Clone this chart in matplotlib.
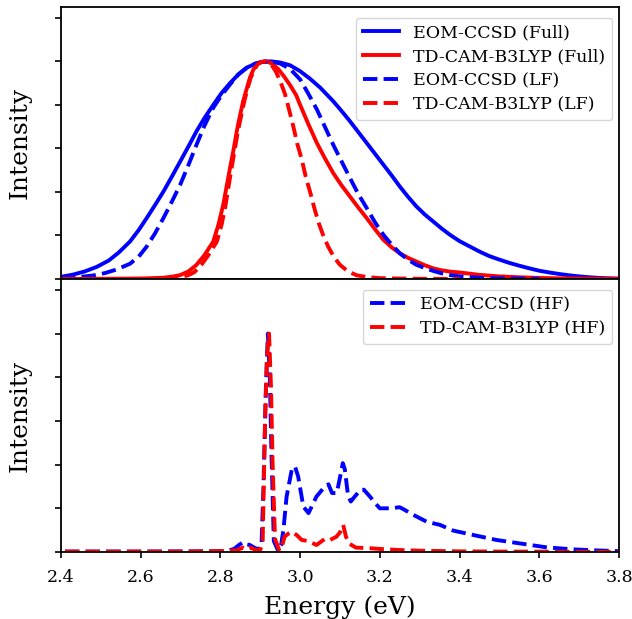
import matplotlib
matplotlib.use("Agg")
import matplotlib.pyplot as plt

# ---------------- data ----------------
# Top panel: full and low-frequency spectra
eom_full_E = [2.40, 2.43, 2.46, 2.49, 2.52, 2.545, 2.573, 2.595, 2.615, 2.636, 2.657, 2.678,
              2.699, 2.72, 2.740, 2.76, 2.782, 2.803, 2.824, 2.845, 2.866, 2.888, 2.908,
              2.928, 2.95, 2.975, 3.00, 3.025, 3.05, 3.083, 3.104, 3.125, 3.146, 3.167,
              3.188, 3.209, 3.23, 3.25, 3.271, 3.292, 3.313, 3.334, 3.355, 3.376, 3.40,
              3.426, 3.45, 3.475, 3.50, 3.525, 3.55, 3.575, 3.60, 3.625, 3.65, 3.675,
              3.70, 3.725, 3.75, 3.775, 3.80]
eom_full_I = [0.010, 0.020, 0.035, 0.056, 0.085, 0.122, 0.172, 0.225, 0.28, 0.34, 0.402, 0.47,
              0.54, 0.61, 0.679, 0.74, 0.80, 0.855, 0.90, 0.94, 0.971, 0.99, 0.999,
              1.0, 0.995, 0.982, 0.955, 0.92, 0.88, 0.817, 0.772, 0.725, 0.675, 0.625,
              0.575, 0.525, 0.475, 0.425, 0.377, 0.333, 0.296, 0.264, 0.232, 0.203, 0.174,
              0.149, 0.126, 0.105, 0.089, 0.074, 0.061, 0.049, 0.038, 0.030, 0.023, 0.017,
              0.012, 0.008, 0.005, 0.003, 0.002]

cam_full_E = [2.40, 2.50, 2.58, 2.62, 2.657, 2.68, 2.699, 2.72, 2.740, 2.76, 2.782, 2.795,
              2.807, 2.816, 2.824, 2.833, 2.841, 2.849, 2.857, 2.866, 2.874, 2.882, 2.891,
              2.90, 2.915, 2.93, 2.945, 2.96, 2.975, 2.99, 3.00, 3.021, 3.042, 3.062, 3.083,
              3.104, 3.125, 3.146, 3.167, 3.188, 3.209, 3.23, 3.25, 3.271, 3.292, 3.313,
              3.334, 3.355, 3.376, 3.40, 3.418, 3.45, 3.50, 3.55, 3.60, 3.65, 3.70, 3.80]
cam_full_I = [0.0, 0.001, 0.002, 0.003, 0.006, 0.011, 0.018, 0.035, 0.065, 0.11, 0.172, 0.25,
              0.341, 0.43, 0.51, 0.595, 0.679, 0.75, 0.817, 0.875, 0.925, 0.96, 0.986,
              0.997, 1.0, 0.99, 0.965, 0.93, 0.89, 0.845, 0.80, 0.71, 0.625, 0.555, 0.487,
              0.43, 0.379, 0.328, 0.28, 0.228, 0.18, 0.145, 0.118, 0.097, 0.08, 0.063,
              0.049, 0.04, 0.034, 0.030, 0.026, 0.019, 0.012, 0.008, 0.005, 0.003, 0.002, 0.001]

eom_lf_E = [2.40, 2.44, 2.48, 2.51, 2.54, 2.573, 2.595, 2.615, 2.636, 2.657, 2.678, 2.699,
            2.72, 2.740, 2.76, 2.782, 2.803, 2.824, 2.845, 2.866, 2.888, 2.908, 2.928, 2.95,
            2.975, 3.00, 3.021, 3.042, 3.062, 3.083, 3.104, 3.125, 3.146, 3.167, 3.188,
            3.209, 3.23, 3.25, 3.271, 3.292, 3.313, 3.334, 3.355, 3.376, 3.40, 3.43, 3.46,
            3.50, 3.55, 3.60]
eom_lf_I = [0.003, 0.008, 0.016, 0.027, 0.044, 0.070, 0.103, 0.149, 0.21, 0.28, 0.355, 0.433,
            0.525, 0.617, 0.705, 0.787, 0.845, 0.894, 0.94, 0.971, 0.99, 0.998, 1.0, 0.99,
            0.965, 0.917, 0.85, 0.779, 0.70, 0.617, 0.54, 0.464, 0.39, 0.326, 0.26,
            0.203, 0.157, 0.118, 0.088, 0.065, 0.05, 0.037, 0.026, 0.018, 0.012, 0.008, 0.005,
            0.003, 0.002, 0.001]

cam_lf_E = [2.40, 2.55, 2.62, 2.67, 2.70, 2.72, 2.735, 2.752, 2.77, 2.791, 2.803, 2.812,
            2.82, 2.828, 2.836, 2.844, 2.852, 2.86, 2.868, 2.876, 2.885, 2.893, 2.902,
            2.915, 2.928, 2.94, 2.952, 2.962, 2.972, 2.983, 2.993, 3.004, 3.014, 3.025,
            3.035, 3.046, 3.058, 3.07, 3.085, 3.10, 3.12, 3.142, 3.167, 3.20, 3.25, 3.30, 3.40]
cam_lf_I = [0.0, 0.0, 0.001, 0.003, 0.008, 0.018, 0.032, 0.065, 0.11, 0.172, 0.25, 0.33,
            0.42, 0.51, 0.595, 0.68, 0.75, 0.817, 0.875, 0.925, 0.96, 0.986, 0.997,
            1.0, 0.985, 0.95, 0.90, 0.85, 0.78, 0.70, 0.62, 0.55, 0.47, 0.40,
            0.33, 0.26, 0.20, 0.15, 0.10, 0.065, 0.035, 0.017, 0.009, 0.004, 0.002, 0.001, 0.0]

# Bottom panel: high-frequency spectra
eom_hf_E = [2.41, 2.60, 2.75, 2.80, 2.82, 2.835, 2.845, 2.857, 2.866, 2.874, 2.885, 2.895,
            2.903, 2.908, 2.914, 2.919, 2.924, 2.928, 2.934, 2.945, 2.952, 2.958, 2.966,
            2.979, 2.987, 2.995, 3.008, 3.021, 3.041, 3.062, 3.071, 3.08, 3.092, 3.102,
            3.107, 3.112, 3.12, 3.127, 3.134, 3.151, 3.16, 3.175, 3.19, 3.20, 3.225, 3.25,
            3.265, 3.284, 3.30, 3.317, 3.351, 3.384, 3.434, 3.493, 3.56, 3.619, 3.686,
            3.75, 3.80]
eom_hf_I = [0.002, 0.002, 0.003, 0.004, 0.006, 0.015, 0.03, 0.045, 0.035, 0.032, 0.02, 0.012,
            0.03, 0.30, 0.75, 1.0, 0.8, 0.45, 0.05, 0.005, 0.03, 0.10, 0.254,
            0.377, 0.392, 0.346, 0.208, 0.178, 0.254, 0.30, 0.31, 0.27, 0.27, 0.36,
            0.407, 0.38, 0.26, 0.231, 0.247, 0.285, 0.285, 0.254, 0.22, 0.20, 0.20, 0.205,
            0.19, 0.17, 0.155, 0.139, 0.124, 0.098, 0.078, 0.055, 0.037, 0.021, 0.012,
            0.007, 0.004]

cam_hf_E = [2.41, 2.70, 2.80, 2.84, 2.857, 2.866, 2.876, 2.89, 2.90, 2.906, 2.912, 2.917,
            2.922, 2.927, 2.931, 2.937, 2.948, 2.955, 2.961, 2.971, 2.979, 2.991, 3.004,
            3.021, 3.041, 3.062, 3.075, 3.091, 3.10, 3.108, 3.115, 3.122, 3.129, 3.14,
            3.17, 3.20, 3.25, 3.30, 3.40, 3.50, 3.80]
cam_hf_I = [0.002, 0.002, 0.004, 0.008, 0.02, 0.012, 0.02, 0.008, 0.01, 0.05, 0.6, 0.9,
            1.0, 0.75, 0.4, 0.06, 0.005, 0.03, 0.07, 0.085, 0.093, 0.078, 0.055,
            0.05, 0.032, 0.06, 0.055, 0.07, 0.09, 0.124, 0.07, 0.04, 0.032, 0.02,
            0.018, 0.014, 0.009, 0.006, 0.003, 0.002, 0.001]

x_ticks = [2.4, 2.6, 2.8, 3.0, 3.2, 3.4, 3.6, 3.8]
y_ticks = [0.0, 0.2, 0.4, 0.6, 0.8, 1.0, 1.2]

# ---------------- figure ----------------
plt.rcParams['font.family'] = ['DejaVu Serif']
plt.rcParams['mathtext.fontset'] = 'dejavuserif'

fig = plt.figure(figsize=(6.32, 6.19), dpi=100)
L, R = 61 / 632, 619 / 632
ax1 = fig.add_axes([L, 1 - 279 / 619, R - L, 272 / 619])
ax2 = fig.add_axes([L, 1 - 552 / 619, R - L, 273 / 619], sharex=ax1)

lw = 2.8
ax1.plot(eom_full_E, eom_full_I, color='blue', lw=lw, ls='-', label='EOM-CCSD (Full)')
ax1.plot(cam_full_E, cam_full_I, color='red', lw=lw, ls='-', label='TD-CAM-B3LYP (Full)')
ax1.plot(eom_lf_E, eom_lf_I, color='blue', lw=lw, ls='--', label='EOM-CCSD (LF)')
ax1.plot(cam_lf_E, cam_lf_I, color='red', lw=lw, ls='--', label='TD-CAM-B3LYP (LF)')

ax2.plot(eom_hf_E, eom_hf_I, color='blue', lw=lw, ls='--', label='EOM-CCSD (HF)')
ax2.plot(cam_hf_E, cam_hf_I, color='red', lw=lw, ls='--', label='TD-CAM-B3LYP (HF)')

for ax in (ax1, ax2):
    ax.set_ylim(0, 1.25)
    ax.set_yticks(y_ticks)
    ax.set_yticklabels([])
    ax.set_ylabel('Intensity', fontsize=18, labelpad=13)
    ax.tick_params(axis='y', direction='out', length=4.5, width=1.2)
    for s in ax.spines.values():
        s.set_linewidth(1.3)
    ax.legend(loc='upper right', bbox_to_anchor=(1.002, 0.99), fontsize=12.5,
              labelspacing=0.4, borderaxespad=0.45, handlelength=2.1)

ax1.set_xlim(2.4, 3.8)
ax2.set_xticks(x_ticks)
ax1.tick_params(axis='x', length=0, labelbottom=False)
ax2.tick_params(axis='x', direction='out', length=4.5, width=1.2, labelsize=12.5, pad=8)
ax2.set_xlabel('Energy (eV)', fontsize=18, labelpad=6.5)

fig.savefig('out.png', dpi=100)
